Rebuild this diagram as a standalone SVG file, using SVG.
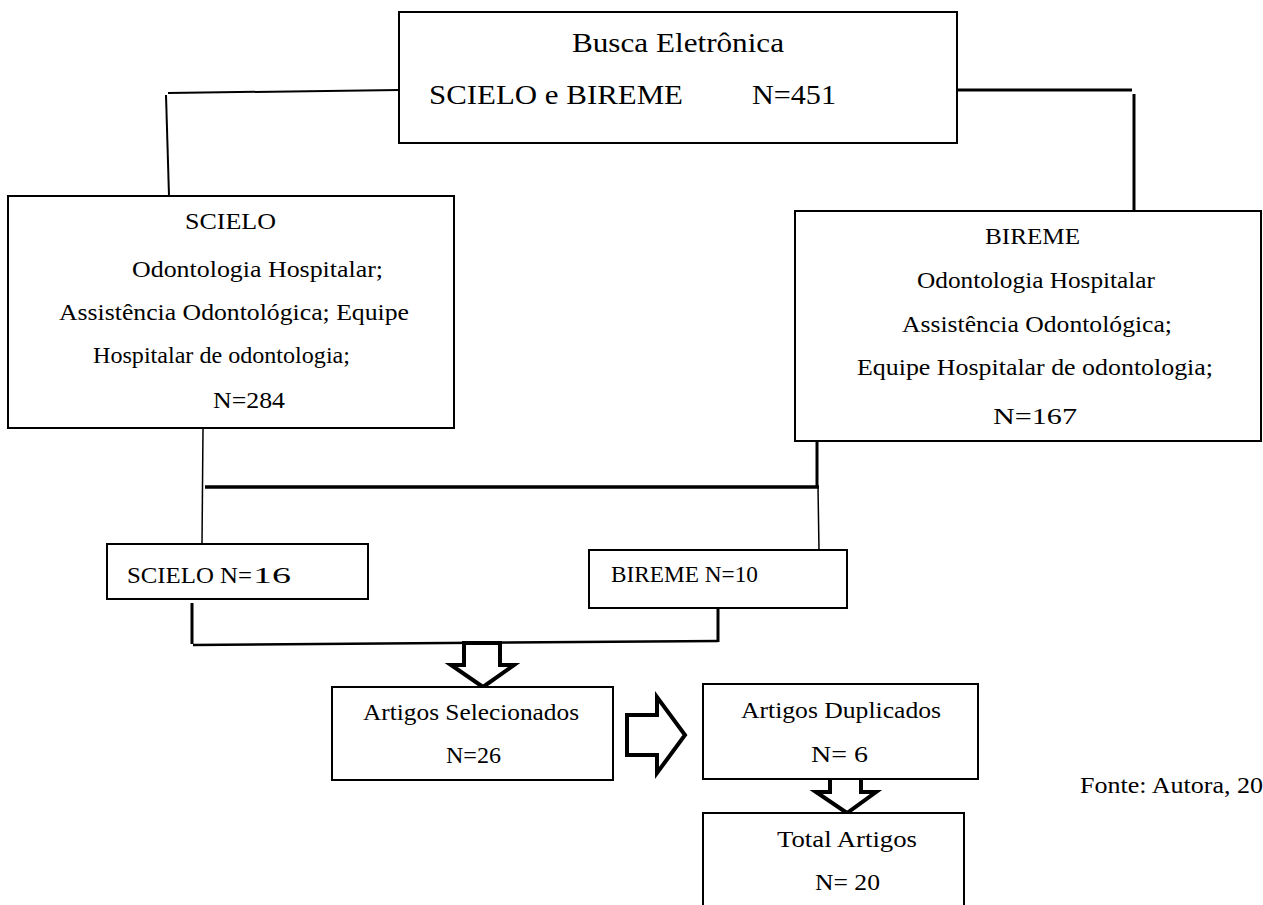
<svg xmlns="http://www.w3.org/2000/svg" width="1263" height="905" viewBox="0 0 1263 905">
<style>
.box{fill:#fff;stroke:#000;stroke-width:2}
.t{font-family:"Liberation Serif","Times New Roman",serif;fill:#000;font-size:24px}
.big{font-size:28px}
.ln{stroke:#000;fill:none}
.arr{fill:#fff;stroke:#000;stroke-width:4;stroke-linejoin:miter}
</style>
<rect width="1263" height="905" fill="#fff"/>
<g id="connectors">
<line class="ln" x1="399" y1="90" x2="168" y2="93" stroke-width="2"/>
<line class="ln" x1="166" y1="95" x2="169" y2="196" stroke-width="2"/>
<line class="ln" x1="957" y1="90" x2="1132" y2="90" stroke-width="3"/>
<line class="ln" x1="1134" y1="94" x2="1134" y2="210" stroke-width="3"/>
<line class="ln" x1="203" y1="429" x2="202" y2="544" stroke-width="1.5"/>
<line class="ln" x1="205" y1="487" x2="819" y2="487" stroke-width="3.5"/>
<line class="ln" x1="817" y1="442" x2="817" y2="487" stroke-width="3"/>
<line class="ln" x1="818" y1="487" x2="819" y2="550" stroke-width="1.5"/>
<line class="ln" x1="192" y1="603" x2="192" y2="644" stroke-width="3"/>
<line class="ln" x1="193" y1="645" x2="718" y2="641" stroke-width="2.5"/>
<line class="ln" x1="718" y1="608" x2="718" y2="642" stroke-width="3"/>
<polygon class="arr" points="464,643 500,643 500,665 514,665 483,687 451,665 464,665"/>
<polygon class="arr" points="627,715 657,715 657,697 685,735 657,773 657,755 627,755"/>
<polygon class="arr" points="830,771 861,771 861,792 876,792 847,813 816,792 830,792"/>
</g>
<g id="busca">
<rect class="box" x="399" y="12" width="558" height="131"/>
<text class="t big" x="572" y="52" textLength="212" lengthAdjust="spacingAndGlyphs">Busca Eletrônica</text>
<text class="t big" x="429" y="104" textLength="254" lengthAdjust="spacingAndGlyphs">SCIELO e BIREME</text>
<text class="t big" x="752" y="104" textLength="84" lengthAdjust="spacingAndGlyphs">N=451</text>
</g>
<g id="scielo">
<rect class="box" x="8" y="196" width="446" height="232"/>
<text class="t" x="185" y="229" textLength="91" lengthAdjust="spacingAndGlyphs">SCIELO</text>
<text class="t" x="132" y="277" textLength="251" lengthAdjust="spacingAndGlyphs">Odontologia Hospitalar;</text>
<text class="t" x="59" y="320" textLength="350" lengthAdjust="spacingAndGlyphs">Assistência Odontológica; Equipe</text>
<text class="t" x="93" y="363" textLength="257" lengthAdjust="spacingAndGlyphs">Hospitalar de odontologia;</text>
<text class="t" x="213" y="408" textLength="72" lengthAdjust="spacingAndGlyphs">N=284</text>
</g>
<g id="bireme">
<rect class="box" x="795" y="211" width="466" height="230"/>
<text class="t" x="985" y="244" textLength="95" lengthAdjust="spacingAndGlyphs">BIREME</text>
<text class="t" x="917" y="288" textLength="238" lengthAdjust="spacingAndGlyphs">Odontologia Hospitalar</text>
<text class="t" x="902" y="332" textLength="270" lengthAdjust="spacingAndGlyphs">Assistência Odontológica;</text>
<text class="t" x="857" y="375" textLength="356" lengthAdjust="spacingAndGlyphs">Equipe Hospitalar de odontologia;</text>
<text class="t" x="993" y="424" font-size="32" textLength="84" lengthAdjust="spacingAndGlyphs">N=167</text>
</g>
<g id="scielo16">
<rect class="box" x="107" y="544" width="261" height="55"/>
<text class="t" x="127" y="583" font-size="25" textLength="125" lengthAdjust="spacingAndGlyphs">SCIELO N=</text>
<text class="t" x="253" y="583" font-size="31" textLength="38" lengthAdjust="spacingAndGlyphs">16</text>
</g>
<g id="bireme10">
<rect class="box" x="589" y="550" width="258" height="58"/>
<text class="t" x="611" y="582" font-size="24" textLength="147" lengthAdjust="spacingAndGlyphs">BIREME N=10</text>
</g>
<g id="selecionados">
<rect class="box" x="332" y="687" width="281" height="93"/>
<text class="t" x="363" y="720" textLength="216" lengthAdjust="spacingAndGlyphs">Artigos Selecionados</text>
<text class="t" x="446" y="763" textLength="55" lengthAdjust="spacingAndGlyphs">N=26</text>
</g>
<g id="duplicados">
<rect class="box" x="703" y="684" width="275" height="95"/>
<text class="t" x="741" y="718" textLength="200" lengthAdjust="spacingAndGlyphs">Artigos Duplicados</text>
<text class="t" x="811" y="762" textLength="57" lengthAdjust="spacingAndGlyphs">N= 6</text>
</g>
<g id="total">
<rect class="box" x="703" y="813" width="261" height="100"/>
<text class="t" x="777" y="847" textLength="140" lengthAdjust="spacingAndGlyphs">Total Artigos</text>
<text class="t" x="815" y="890" textLength="65" lengthAdjust="spacingAndGlyphs">N= 20</text>
</g>
<g id="fonte">
<text class="t" x="1080" y="793" textLength="183" lengthAdjust="spacingAndGlyphs">Fonte: Autora, 20</text>
</g>
</svg>
